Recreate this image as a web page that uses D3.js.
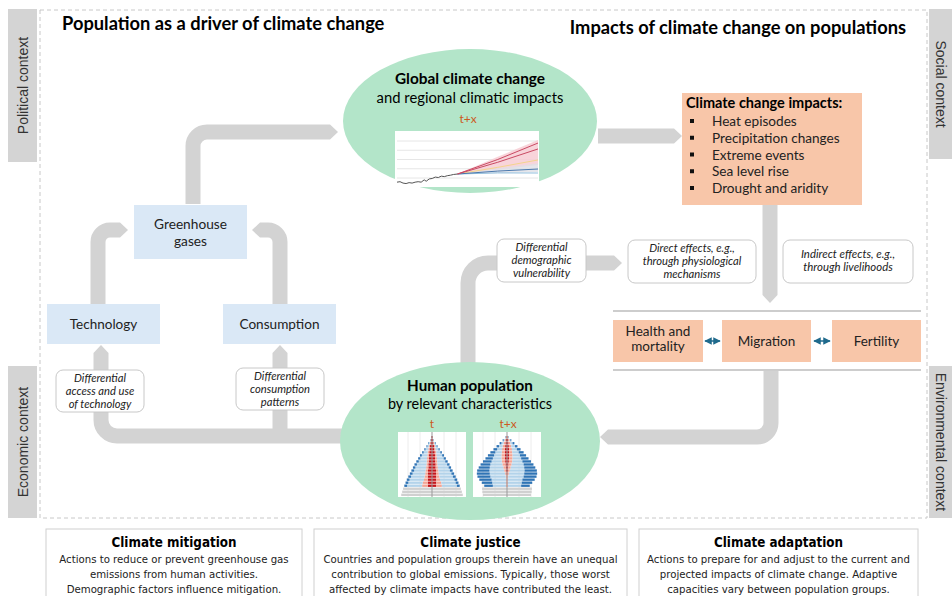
<!DOCTYPE html>
<head>
  <meta charset="utf-8">
  <title>Population and climate change</title>
  <script src="https://d3js.org/d3.v7.min.js"></script>
</head>
<body style="margin:0;background:#fff">
<script>
  // ---- data ----
  var impactItems = ['Heat episodes', 'Precipitation changes', 'Extreme events', 'Sea level rise', 'Drought and aridity'];
  var outcomeBoxes = [['Health and', 'mortality'], ['Migration'], ['Fertility']];
  var panelTitles = ['Climate mitigation', 'Climate justice', 'Climate adaptation'];
  var panelLines = [
    ['Actions to reduce or prevent greenhouse gas', 'emissions from human activities.', 'Demographic factors influence mitigation.'],
    ['Countries and population groups therein have an unequal', 'contribution to global emissions. Typically, those worst', 'affected by climate impacts have contributed the least.'],
    ['Actions to prepare for and adjust to the current and', 'projected impacts of climate change. Adaptive', 'capacities vary between population groups.']
  ];

  // mini temperature chart
  var histYears = [1960, 1963, 1966, 1969, 1972, 1975, 1978, 1981, 1984, 1987, 1989, 1992, 1995, 1998, 2001, 2004, 2007, 2010, 2013, 2016, 2020];
  var histTemp  = [-0.45, -0.4, -0.55, -0.6, -0.5, -0.55, -0.45, -0.4, -0.45, -0.2, -0.35, -0.1, -0.05, 0.1, 0.05, 0.2, 0.15, 0.25, 0.3, 0.38, 0.43];
  var projYears = [2020, 2060, 2100];
  var sspVeryHigh = [0.43, 2.0, 3.78];
  var sspHigh     = [0.43, 1.7, 3.14];
  var sspMid      = [0.43, 1.15, 1.95];
  var sspLow      = [0.43, 0.75, 0.97];
  var sspVeryLow  = [0.43, 0.55, 0.54];
  var bandHighLo  = [0.43, 0.9, 1.4];
  var bandHighHi  = [0.43, 2.3, 4.1];
  var bandLowLo   = [0.43, 0.55, 0.65];
  var bandLowHi   = [0.43, 1.05, 1.6];
  var gridTicks   = [0, 1, 2, 3, 4];

  // population pyramids, one side, % of population, ages 0-4 ... 95-99
  var ageGroups = ['0-4','5-9','10-14','15-19','20-24','25-29','30-34','35-39','40-44','45-49','50-54','55-59','60-64','65-69','70-74','75-79','80-84','85-89','90-94','95-99'];
  var childT   = [5.0, 4.85, 4.7, 0,0,0,0,0,0,0,0,0,0,0,0,0,0,0,0,0];
  var noEduT   = [0,0,0, 0.7, 0.7, 0.7, 0.7, 0.65, 0.65, 0.6, 0.6, 0.55, 0.5, 0.5, 0.45, 0.4, 0.35, 0.25, 0.15, 0.1];
  var primT    = [0,0,0, 0.9, 0.8, 0.6, 0.5, 0.45, 0.4, 0.35, 0.3, 0.3, 0.3, 0.25, 0.25, 0.2, 0.15, 0.1, 0.05, 0.03];
  var secT     = [0,0,0, 2.45, 2.35, 2.35, 2.2, 2.05, 1.85, 1.75, 1.55, 1.3, 1.1, 0.9, 0.65, 0.45, 0.25, 0.15, 0.05, 0.0];
  var tertT    = [0,0,0, 0.45, 0.45, 0.45, 0.45, 0.45, 0.45, 0.4, 0.4, 0.4, 0.35, 0.3, 0.25, 0.2, 0.15, 0.1, 0.05, 0.02];
  var childTx  = [3.9, 4.0, 4.05, 0,0,0,0,0,0,0,0,0,0,0,0,0,0,0,0,0];
  var noEduTx  = [0,0,0, 0.05, 0.05, 0.05, 0.05, 0.1, 0.15, 0.2, 0.25, 0.3, 0.35, 0.35, 0.35, 0.35, 0.3, 0.25, 0.2, 0.1];
  var primTx   = [0,0,0, 0.1, 0.1, 0.1, 0.15, 0.2, 0.3, 0.4, 0.5, 0.55, 0.55, 0.55, 0.5, 0.45, 0.4, 0.3, 0.2, 0.1];
  var secTx    = [0,0,0, 2.15, 2.25, 2.35, 2.5, 2.5, 2.4, 2.2, 1.95, 1.65, 1.4, 1.2, 1.05, 0.8, 0.6, 0.35, 0.15, 0.05];
  var tertTx   = [0,0,0, 1.4, 1.7, 2.0, 2.1, 2.1, 2.0, 1.8, 1.6, 1.4, 1.2, 1.0, 0.8, 0.6, 0.4, 0.3, 0.15, 0.05];

  var width = 952;
  var height = 596;
  var font = 'Lato, "Open Sans", sans-serif';
  var narrow = '"Liberation Sans Narrow", "DejaVu Sans Condensed", sans-serif';
  var arrowGray = '#d3d3d3';
  var green = '#b3e5c9';
  var peach = '#f8c6a9';
  var lightBlue = '#dae8f6';
  var tColor = '#cc5a22';

  var svg = d3.select('body').append('svg').attr('width', width).attr('height', height)
    .style('font-family', font);

  // context tabs and frame
  svg.append('rect').attr('x', 40).attr('y', 10).attr('width', 887).attr('height', 508)
    .attr('fill', 'none').attr('stroke', '#c8c8c8').attr('stroke-dasharray', '4,3');

  var tabs = [
    {label: 'Political context', x: 8, y: 9, w: 29, h: 153, rot: -90},
    {label: 'Economic context', x: 8, y: 366, w: 29, h: 152, rot: -90},
    {label: 'Social context', x: 929, y: 9, w: 23, h: 150, rot: 90},
    {label: 'Environmental context', x: 929, y: 366, w: 23, h: 152, rot: 90}
  ];
  tabs.forEach(function(t) {
    svg.append('rect').attr('x', t.x).attr('y', t.y).attr('width', t.w).attr('height', t.h).attr('fill', '#d4d4d4');
    var cx = t.x + t.w / 2 + (t.rot < 0 ? 5 : -5), cy = t.y + t.h / 2;
    svg.append('text').attr('transform', 'translate(' + cx + ',' + cy + ') rotate(' + t.rot + ')')
      .attr('text-anchor', 'middle').attr('font-size', 14).attr('fill', '#333')
      .attr('font-family', '"Liberation Sans", Arial, sans-serif').text(t.label);
  });

  svg.append('text').attr('x', 62).attr('y', 30).attr('font-size', 18.3).attr('font-weight', 700).text('Population as a driver of climate change');
  svg.append('text').attr('x', 906).attr('y', 34).attr('text-anchor', 'end').attr('font-size', 18.3).attr('font-weight', 700).text('Impacts of climate change on populations');

  // ---- gray arrows ----
  function arrow(pts, r, w) {
    w = w || 15;
    var n = pts.length, last = pts[n - 1], prev = pts[n - 2];
    var dx = last[0] - prev[0], dy = last[1] - prev[1], len = Math.sqrt(dx * dx + dy * dy);
    var ux = dx / len, uy = dy / len, hl = 8;
    var bx = last[0] - ux * hl, by = last[1] - uy * hl;
    var p = d3.path();
    p.moveTo(pts[0][0], pts[0][1]);
    for (var i = 1; i < n - 1; i++) p.arcTo(pts[i][0], pts[i][1], pts[i + 1][0], pts[i + 1][1], r);
    p.lineTo(bx, by);
    svg.append('path').attr('d', p.toString()).attr('fill', 'none').attr('stroke', arrowGray).attr('stroke-width', w);
    var px = -uy * w / 2, py = ux * w / 2;
    svg.append('path').attr('fill', arrowGray)
      .attr('d', 'M' + (bx + px) + ',' + (by + py) + 'L' + last[0] + ',' + last[1] + 'L' + (bx - px) + ',' + (by - py) + 'Z');
  }
  arrow([[193, 204], [193, 132], [338, 132]], 14);
  arrow([[598, 136], [682, 136]], 0);
  arrow([[770, 205], [770, 303]], 0);
  arrow([[468, 366], [468, 263], [622, 263]], 20);
  arrow([[771, 371], [771, 437], [600, 437]], 14);
  arrow([[342, 436], [101, 436], [101, 345]], 16);
  arrow([[280, 436], [280, 345]], 0);
  arrow([[98, 304], [98, 230], [128, 230]], 12);
  arrow([[280, 304], [280, 230], [252, 230]], 12);

  // ---- ellipses ----
  svg.append('ellipse').attr('cx', 470).attr('cy', 121).attr('rx', 127).attr('ry', 72).attr('fill', green);
  svg.append('ellipse').attr('cx', 470).attr('cy', 441).attr('rx', 130).attr('ry', 79).attr('fill', green);

  svg.append('text').attr('x', 470).attr('y', 84).attr('text-anchor', 'middle').attr('font-size', 15.4).attr('font-weight', 700).text('Global climate change');
  svg.append('text').attr('x', 470).attr('y', 103).attr('text-anchor', 'middle').attr('font-size', 14.8).text('and regional climatic impacts');
  svg.append('text').attr('x', 468).attr('y', 123).attr('text-anchor', 'middle').attr('font-size', 12).attr('fill', tColor).text('t+x');

  // mini climate chart
  var cg = svg.append('g');
  cg.append('rect').attr('x', 395).attr('y', 131).attr('width', 144).attr('height', 56).attr('fill', '#fff');
  var xs = d3.scaleLinear().domain([1960, 2100]).range([397, 538]);
  var ys = d3.scaleLinear().domain([0, 4]).range([178, 141]);
  cg.selectAll('.grid').data(gridTicks).enter().append('line')
    .attr('x1', 397).attr('x2', 538).attr('y1', function(d) {return ys(d);}).attr('y2', function(d) {return ys(d);})
    .attr('stroke', '#e6e6e6');
  var bandArea = d3.area().x(function(d) {return xs(d[0]);}).y0(function(d) {return ys(d[1]);}).y1(function(d) {return ys(d[2]);});
  cg.append('path').attr('d', bandArea(d3.zip(projYears, bandHighLo, bandHighHi))).attr('fill', '#f7cdd3').attr('opacity', 0.85);
  cg.append('path').attr('d', bandArea(d3.zip(projYears, bandLowLo, bandLowHi))).attr('fill', '#dfe0e6').attr('opacity', 0.8);
  var ln = d3.line().x(function(d) {return xs(d[0]);}).y(function(d) {return ys(d[1]);});
  cg.append('path').attr('d', ln(d3.zip(histYears, histTemp))).attr('fill', 'none').attr('stroke', '#555').attr('stroke-width', 1);
  [[sspMid, '#f3d58e'], [sspVeryLow, '#8fbddc'], [sspLow, '#4a78ad'], [sspHigh, '#c94a63'], [sspVeryHigh, '#c94a63']].forEach(function(s) {
    cg.append('path').attr('d', ln(d3.zip(projYears, s[0]))).attr('fill', 'none').attr('stroke', s[1]).attr('stroke-width', 1);
  });

  svg.append('text').attr('x', 470).attr('y', 391).attr('text-anchor', 'middle').attr('font-size', 15.2).attr('font-weight', 700).text('Human population');
  svg.append('text').attr('x', 470).attr('y', 409).attr('text-anchor', 'middle').attr('font-size', 14.4).text('by relevant characteristics');
  svg.append('text').attr('x', 432).attr('y', 428).attr('text-anchor', 'middle').attr('font-size', 12).attr('fill', tColor).text('t');
  svg.append('text').attr('x', 508).attr('y', 428).attr('text-anchor', 'middle').attr('font-size', 12).attr('fill', tColor).text('t+x');

  // pyramids
  var eduKeys = ['noEdu', 'prim', 'sec', 'tert'];
  var eduColors = {noEdu: '#c4161c', prim: '#f4a493', sec: '#b3d3ea', tert: '#2f74b5'};
  var ageY = d3.scaleBand().domain(ageGroups).range([496, 436]).paddingInner(0.22);
  var halfW = d3.scaleLinear().domain([0, 5.2]).range([0, 32]);

  function pyramid(cx, child, noEdu, prim, sec, tert) {
    var g = svg.append('g');
    g.append('rect').attr('x', cx - 34).attr('y', 432).attr('width', 68).attr('height', 65).attr('fill', '#fff');
    [-24, -12, 12, 24].forEach(function(o) {
      g.append('line').attr('x1', cx + o).attr('x2', cx + o).attr('y1', 432).attr('y2', 497).attr('stroke', '#ececec');
    });
    var rows = ageGroups.map(function(a, i) {return {age: a, noEdu: noEdu[i], prim: prim[i], sec: sec[i], tert: tert[i]};});
    var stacked = d3.stack().keys(eduKeys)(rows);
    stacked.forEach(function(s) {
      [1, -1].forEach(function(side) {
        g.selectAll(null).data(s).enter().append('rect')
          .attr('x', function(d) {return side > 0 ? cx + halfW(d[0]) : cx - halfW(d[1]);})
          .attr('width', function(d) {return halfW(d[1]) - halfW(d[0]);})
          .attr('y', function(d) {return ageY(d.data.age);})
          .attr('height', ageY.bandwidth())
          .attr('fill', eduColors[s.key]);
      });
    });
    g.selectAll(null).data(ageGroups).enter().append('rect')
      .attr('x', function(d, i) {return cx - halfW(child[i]);})
      .attr('width', function(d, i) {return 2 * halfW(child[i]);})
      .attr('y', function(d) {return ageY(d);})
      .attr('height', ageY.bandwidth())
      .attr('fill', '#d0d0d0');
    g.append('line').attr('x1', cx).attr('x2', cx).attr('y1', 432).attr('y2', 497).attr('stroke', '#999').attr('stroke-width', 1);
  }
  pyramid(432, childT, noEduT, primT, secT, tertT);
  pyramid(507, childTx, noEduTx, primTx, secTx, tertTx);

  // ---- blue boxes (left) ----
  function box(x, y, w, h, fill, lines, size, lh, y0) {
    svg.append('rect').attr('x', x).attr('y', y).attr('width', w).attr('height', h).attr('fill', fill);
    lines.forEach(function(l, i) {
      svg.append('text').attr('x', x + w / 2).attr('y', y0 + i * lh).attr('text-anchor', 'middle')
        .attr('font-size', size).attr('fill', '#222').text(l);
    });
  }
  box(134, 205, 113, 54, lightBlue, ['Greenhouse', 'gases'], 13.7, 17, 229);
  box(47, 304, 113, 40, lightBlue, ['Technology'], 13.5, 0, 329);
  box(223, 304, 113, 40, lightBlue, ['Consumption'], 13.6, 0, 329);

  // rounded italic notes
  function note(x, y, w, h, lines, y0, size) {
    svg.append('rect').attr('x', x).attr('y', y).attr('width', w).attr('height', h).attr('rx', 7)
      .attr('fill', '#fff').attr('stroke', '#c8c8c8');
    lines.forEach(function(l, i) {
      svg.append('text').attr('x', x + w / 2).attr('y', y0 + i * 13.4).attr('text-anchor', 'middle')
        .attr('font-size', size).attr('font-style', 'italic').attr('fill', '#222').text(l);
    });
  }
  note(56, 370, 88, 42, ['Differential', 'access and use', 'of technology'], 381.5, 11.2);
  note(236, 368, 88, 42, ['Differential', 'consumption', 'patterns'], 379.5, 11.2);
  note(497, 239, 89, 43, ['Differential', 'demographic', 'vulnerability'], 250.5, 11.2);
  note(628, 240, 128, 43, ['Direct effects, e.g.,', 'through physiological', 'mechanisms'], 251.5, 11.2);
  note(783, 240, 130, 43, ['Indirect effects, e.g.,', 'through livelihoods'], 258, 11.4);

  // climate change impacts box
  svg.append('rect').attr('x', 682).attr('y', 93).attr('width', 180).attr('height', 112).attr('fill', peach);
  svg.append('text').attr('x', 686).attr('y', 108).attr('font-size', 14.5).attr('font-weight', 700).text('Climate change impacts:');
  var itemY = d3.scalePoint().domain(impactItems).range([126, 193]);
  svg.selectAll('.bul').data(impactItems).enter().append('rect')
    .attr('x', 690).attr('y', function(d) {return itemY(d) - 7;}).attr('width', 4).attr('height', 4).attr('fill', '#111');
  svg.selectAll('.item').data(impactItems).enter().append('text')
    .attr('x', 712).attr('y', function(d) {return itemY(d);}).attr('font-size', 13.6).attr('fill', '#222').text(function(d) {return d;});

  // outcomes row
  [311, 370].forEach(function(y) {
    svg.append('line').attr('x1', 613).attr('x2', 921).attr('y1', y).attr('y2', y).attr('stroke', '#bdbdbd').attr('stroke-width', 1.5);
  });
  var ob = [{x: 613, w: 90}, {x: 722, w: 89}, {x: 832, w: 89}];
  outcomeBoxes.forEach(function(lines, i) {
    var y0 = lines.length > 1 ? 336 : 346;
    box(ob[i].x, 320, ob[i].w, 42, peach, lines, 13.5, 15, y0);
  });
  var defs = svg.append('defs');
  defs.append('marker').attr('id', 'tip').attr('viewBox', '0 0 10 10').attr('refX', 9).attr('refY', 5)
    .attr('markerWidth', 5).attr('markerHeight', 5).attr('orient', 'auto-start-reverse')
    .append('path').attr('d', 'M0,0L10,5L0,10Z').attr('fill', '#1f6a8c');
  [[705, 720], [814, 830]].forEach(function(s) {
    svg.append('line').attr('x1', s[0]).attr('x2', s[1]).attr('y1', 341).attr('y2', 341)
      .attr('stroke', '#1f6a8c').attr('stroke-width', 1.5)
      .attr('marker-start', 'url(#tip)').attr('marker-end', 'url(#tip)');
  });

  // ---- bottom panels ----
  var px = [{x: 46, w: 256}, {x: 314, w: 313}, {x: 639, w: 279}];
  panelTitles.forEach(function(t, i) {
    var p = px[i];
    svg.append('rect').attr('x', p.x).attr('y', 529).attr('width', p.w).attr('height', 80).attr('fill', '#fff').attr('stroke', '#d0d0d0');
    svg.append('text').attr('x', p.x + p.w / 2).attr('y', 547).attr('text-anchor', 'middle')
      .attr('font-family', narrow).attr('font-size', 13.3).attr('font-weight', 700).text(t);
    panelLines[i].forEach(function(l, j) {
      svg.append('text').attr('x', p.x + p.w / 2).attr('y', 563 + j * 15).attr('text-anchor', 'middle')
        .attr('font-family', narrow).attr('font-size', 11.3).attr('fill', '#222').text(l);
    });
  });
</script>
</body>
